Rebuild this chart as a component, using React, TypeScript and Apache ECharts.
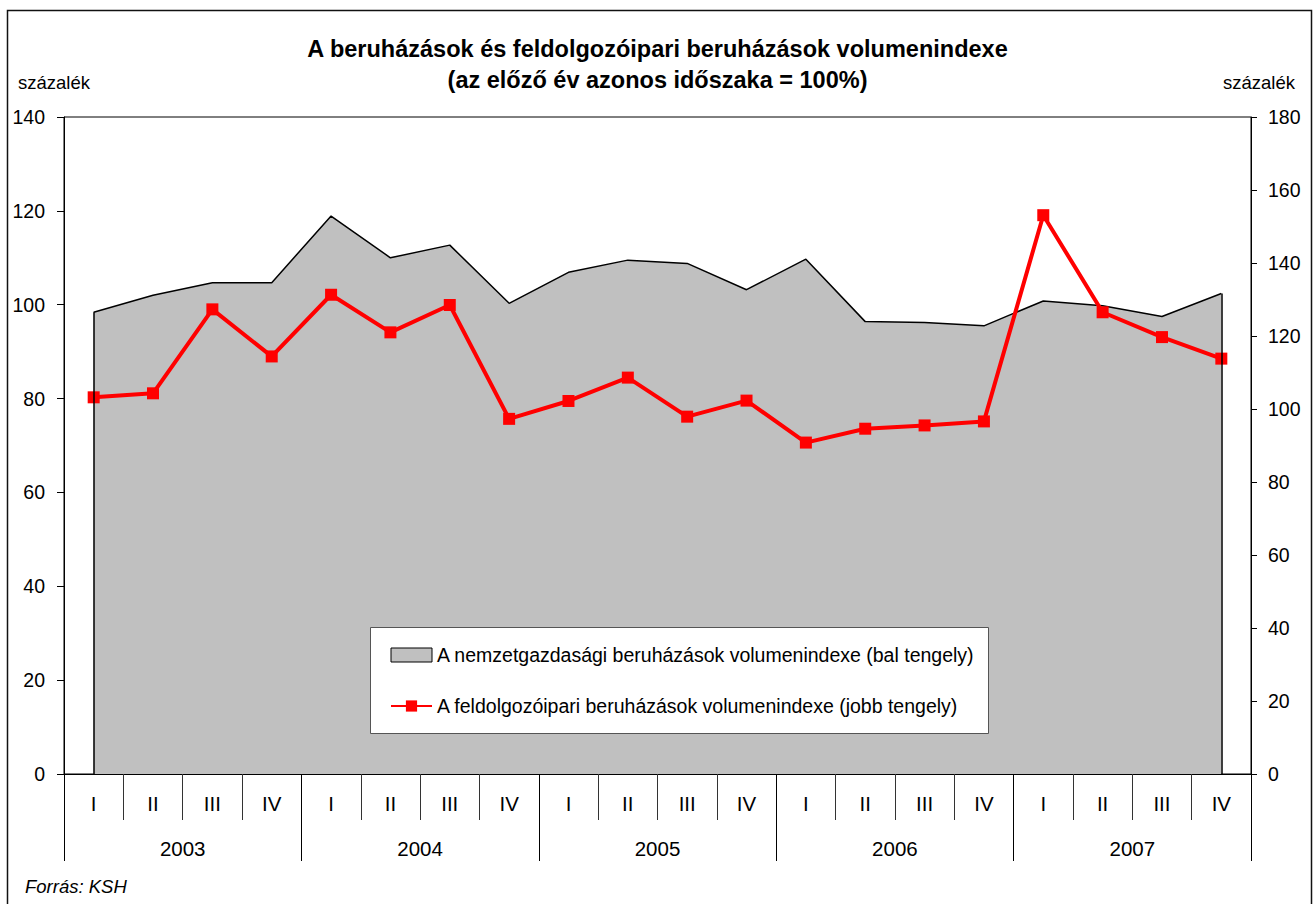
import React, { useEffect, useRef } from "react";
import * as echarts from "echarts";

const years = ["2003", "2004", "2005", "2006", "2007"];
const quarters = ["I", "II", "III", "IV"];
const categories = years.flatMap((y) => quarters.map((q) => `${y} ${q}`));

const areaValues = [98.4, 102.0, 104.7, 104.7, 118.9, 110.0, 112.7, 100.3, 106.9, 109.5, 108.8, 103.2, 109.7, 96.4, 96.2, 95.5, 100.8, 99.8, 97.5, 102.4];
const lineValues = [103.2, 104.3, 127.3, 114.4, 131.3, 121.0, 128.5, 97.3, 102.2, 108.6, 97.9, 102.3, 90.8, 94.6, 95.5, 96.6, 153.1, 126.5, 119.7, 113.8];

const areaName = "A nemzetgazdasági beruházások volumenindexe (bal tengely)";
const lineName = "A feldolgozóipari beruházások volumenindexe (jobb tengely)";
const titleText = "A beruházások és feldolgozóipari beruházások volumenindexe\n(az előző év azonos időszaka = 100%)";
const unitLabel = "százalék";
const sourceText = "Forrás: KSH";

const FONT = "'Liberation Sans', Arial, sans-serif";

export default function App() {
  const ref = useRef<HTMLDivElement>(null);
  useEffect(() => {
    if (!ref.current) return;
    const chart = echarts.init(ref.current, null, { renderer: "svg" });
    const last = categories.length - 1;
    chart.setOption({
      animation: false,
      backgroundColor: "#fff",
      textStyle: { fontFamily: FONT },
      title: {
        text: titleText,
        left: "center",
        top: 28,
        textStyle: { fontFamily: FONT, fontSize: 23.5, fontWeight: "bold", color: "#000", lineHeight: 31 },
      },
      grid: { left: 64, right: 64, top: 117, bottom: 130, show: true, borderColor: "#000", borderWidth: 1, backgroundColor: "transparent" },
      legend: {
        orient: "vertical",
        left: 390,
        top: 645,
        padding: 0,
        itemGap: 31,
        itemWidth: 41,
        itemHeight: 14,
        selectedMode: false,
        z: 6,
        textStyle: { fontFamily: FONT, fontSize: 19.5, color: "#000" },
        data: [
          { name: areaName, icon: "rect", itemStyle: { color: "#c0c0c0", borderColor: "#000", borderWidth: 1 } },
          { name: lineName },
        ],
      },
      xAxis: [
        {
          type: "category",
          data: categories,
          boundaryGap: true,
          axisLine: { show: true, lineStyle: { color: "#000", width: 1 } },
          axisTick: { show: true, interval: 0, length: 46, lineStyle: { color: "#333", width: 1 } },
          axisLabel: { interval: 0, margin: 19, fontSize: 20.5, color: "#000", fontFamily: FONT, formatter: (v: string) => v.split(" ")[1] },
          splitLine: { show: false },
        },
        {
          type: "category",
          data: years,
          position: "bottom",
          boundaryGap: true,
          axisLine: { show: false },
          axisTick: { show: true, interval: 0, length: 87, lineStyle: { color: "#000", width: 1 } },
          axisLabel: { interval: 0, margin: 64, fontSize: 20.5, color: "#000", fontFamily: FONT },
          splitLine: { show: false },
        },
      ],
      yAxis: [
        {
          type: "value",
          min: 0,
          max: 140,
          interval: 20,
          position: "left",
          axisLine: { show: true, lineStyle: { color: "#000", width: 1 } },
          axisTick: { show: true, length: 7, lineStyle: { color: "#000" } },
          axisLabel: { margin: 19, fontSize: 19.5, color: "#000", fontFamily: FONT },
          splitLine: { show: false },
        },
        {
          type: "value",
          min: 0,
          max: 180,
          interval: 20,
          position: "right",
          axisLine: { show: true, lineStyle: { color: "#000", width: 1 } },
          axisTick: { show: true, length: 6, lineStyle: { color: "#000" } },
          axisLabel: { margin: 17, fontSize: 19.5, color: "#000", fontFamily: FONT },
          splitLine: { show: false },
        },
      ],
      series: [
        {
          name: areaName,
          type: "line",
          xAxisIndex: 0,
          yAxisIndex: 0,
          data: areaValues,
          symbol: "none",
          z: 1,
          lineStyle: { color: "#000", width: 1.5 },
          itemStyle: { color: "#c0c0c0", borderColor: "#000" },
          areaStyle: { color: "#c0c0c0", opacity: 1 },
          markLine: {
            silent: true,
            symbol: ["none", "none"],
            label: { show: false },
            lineStyle: { color: "#000", width: 1.5, type: "solid" },
            data: [
              [{ coord: [categories[0], 0] }, { coord: [categories[0], areaValues[0]] }],
              [{ coord: [categories[last], 0] }, { coord: [categories[last], areaValues[last]] }],
            ],
          },
        },
        {
          name: lineName,
          type: "line",
          xAxisIndex: 0,
          yAxisIndex: 1,
          data: lineValues,
          symbol: "rect",
          symbolSize: 12,
          z: 3,
          lineStyle: { color: "#ff0000", width: 4 },
          itemStyle: { color: "#ff0000" },
        },
      ],
      graphic: [
        { type: "rect", z: 0, silent: true, shape: { x: 7.5, y: 10.5, width: 1304, height: 900 }, style: { fill: "none", stroke: "#111", lineWidth: 1.5 } },
        { type: "rect", z: 5, silent: true, shape: { x: 370.5, y: 627.5, width: 618, height: 106 }, style: { fill: "#fff", stroke: "#555", lineWidth: 1 } },
        { type: "text", z: 5, x: 18, y: 82, style: { text: unitLabel, fontFamily: FONT, fontSize: 18.5, fill: "#000", textVerticalAlign: "middle", textAlign: "left" } },
        { type: "text", z: 5, x: 1295, y: 82, style: { text: unitLabel, fontFamily: FONT, fontSize: 18.5, fill: "#000", textVerticalAlign: "middle", textAlign: "right" } },
        { type: "text", z: 5, x: 25, y: 886, style: { text: sourceText, fontFamily: FONT, fontSize: 18.5, fontStyle: "italic", fill: "#000", textVerticalAlign: "middle", textAlign: "left" } },
      ],
    });
    return () => chart.dispose();
  }, []);
  return <div ref={ref} style={{ position: "fixed", left: 0, top: 0, width: 1315, height: 904 }} />;
}
